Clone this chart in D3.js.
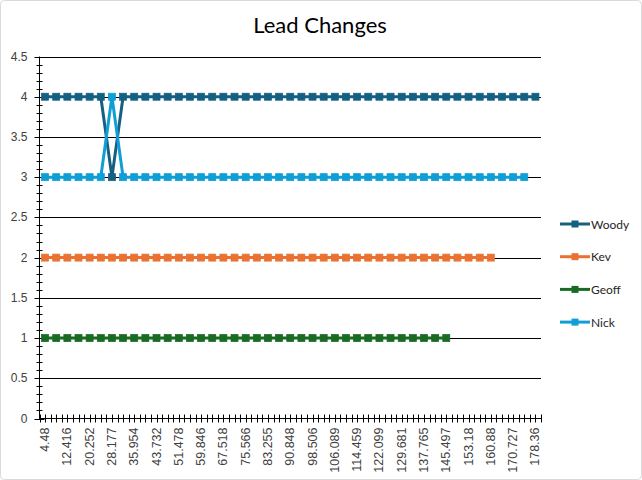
<!DOCTYPE html>
<html><head><meta charset="utf-8">
<script src="https://cdn.jsdelivr.net/npm/d3@7"></script>
<style>body{margin:0;background:#fff}svg{display:block}</style>
</head><body>
<script>
const categories = [4.48,8.4,12.416,16.3,20.252,24.2,28.177,32.1,35.954,39.8,43.732,47.6,51.478,55.6,59.846,63.7,67.518,71.5,75.566,79.4,83.255,87.1,90.848,94.7,98.506,102.3,106.089,110.3,114.459,118.3,122.099,125.9,129.681,133.7,137.765,141.6,145.497,149.3,153.18,157.0,160.88,165.8,170.727,174.5,178.36];
const woody = [4,4,4,4,4,4,3,4,4,4,4,4,4,4,4,4,4,4,4,4,4,4,4,4,4,4,4,4,4,4,4,4,4,4,4,4,4,4,4,4,4,4,4,4,4];
const kev   = [2,2,2,2,2,2,2,2,2,2,2,2,2,2,2,2,2,2,2,2,2,2,2,2,2,2,2,2,2,2,2,2,2,2,2,2,2,2,2,2,2];
const geoff = [1,1,1,1,1,1,1,1,1,1,1,1,1,1,1,1,1,1,1,1,1,1,1,1,1,1,1,1,1,1,1,1,1,1,1,1,1];
const nick  = [3,3,3,3,3,3,4,3,3,3,3,3,3,3,3,3,3,3,3,3,3,3,3,3,3,3,3,3,3,3,3,3,3,3,3,3,3,3,3,3,3,3,3,3];
const seriesNames = ["Woody","Kev","Geoff","Nick"];
const seriesColors = ["#156082","#E97132","#196B24","#0F9ED5"];
const yTicks = [0,0.5,1,1.5,2,2.5,3,3.5,4,4.5];
const title = "Lead Changes";

const W=642,H=480;
const svg=d3.select("body").append("svg").attr("width",W).attr("height",H);
svg.append("rect").attr("x",0.5).attr("y",0.5).attr("width",W-1).attr("height",H-1)
  .attr("rx",4).attr("fill","#fff").attr("stroke","#d9d9d9");

const L=39.5,R=541,T=56.5,B=418.5;
const x=d3.scaleBand().domain(d3.range(categories.length)).range([L,R]);
const y=d3.scaleLinear().domain([0,4.5]).range([B,T]);

svg.append("text").attr("x",320).attr("y",33).attr("text-anchor","middle")
  .attr("font-family","Lato, 'Open Sans', sans-serif").attr("font-size",22).attr("fill","#000").text(title);

// gridlines
svg.append("g").selectAll("line").data(yTicks.filter(d=>d>0)).join("line")
  .attr("x1",L).attr("x2",R).attr("y1",d=>Math.round(y(d))+0.5).attr("y2",d=>Math.round(y(d))+0.5)
  .attr("stroke","#000").attr("stroke-width",1);

// y axis minor ticks
const minor=d3.range(0,46).map(i=>i/10);
svg.append("g").selectAll("line").data(minor).join("line")
  .attr("x1",L-3).attr("x2",L+3).attr("y1",d=>Math.round(y(d))+0.5).attr("y2",d=>Math.round(y(d))+0.5)
  .attr("stroke","#000");
svg.append("g").selectAll("line").data(yTicks).join("line")
  .attr("x1",L-5).attr("x2",L+5).attr("y1",d=>Math.round(y(d))+0.5).attr("y2",d=>Math.round(y(d))+0.5)
  .attr("stroke","#000");
svg.append("line").attr("x1",L).attr("x2",L).attr("y1",T).attr("y2",B+0.5).attr("stroke","#000");
svg.append("g").selectAll("text").data(yTicks).join("text")
  .attr("x",L-12).attr("y",d=>y(d)+4).attr("text-anchor","end")
  .attr("font-family","'Liberation Sans', Arial, sans-serif").attr("font-size",12).attr("fill","#404040")
  .text(d=>d);

// x axis
const bw=x.bandwidth();
const xt=d3.range(categories.length*2+1).map(i=>L+i*bw/2);
svg.append("line").attr("x1",L).attr("x2",R).attr("y1",B).attr("y2",B).attr("stroke","#000");
svg.append("g").selectAll("line").data(xt).join("line")
  .attr("x1",d=>Math.round(d)+0.5).attr("x2",d=>Math.round(d)+0.5).attr("y1",B-4).attr("y2",B+4).attr("stroke","#000");
svg.append("g").selectAll("text").data(categories.map((c,i)=>({c,i})).filter(d=>d.i%2===0)).join("text")
  .attr("transform",d=>`translate(${x(d.i)+bw/2+4},${B+9}) rotate(-90)`)
  .attr("text-anchor","end")
  .attr("font-family","'Liberation Sans', Arial, sans-serif").attr("font-size",12.5).attr("fill","#404040")
  .text(d=>d.c);

// series
const data=[woody,kev,geoff,nick];
const line=d3.line().x((d,i)=>x(i)+bw/2).y(d=>y(d));
data.forEach((s,k)=>{
  const g=svg.append("g");
  g.append("path").attr("d",line(s)).attr("fill","none").attr("stroke",seriesColors[k]).attr("stroke-width",3).attr("stroke-linejoin","round");
  g.selectAll("rect").data(s).join("rect")
    .attr("x",(d,i)=>x(i)+bw/2-3.5).attr("y",d=>y(d)-3.5).attr("width",7).attr("height",7)
    .attr("fill",seriesColors[k]).attr("stroke",seriesColors[k]).attr("stroke-width",0.75);
});

// legend
const lg=svg.append("g");
seriesNames.forEach((n,k)=>{
  const yy=224+k*32.7;
  lg.append("line").attr("x1",560).attr("x2",590).attr("y1",yy).attr("y2",yy).attr("stroke",seriesColors[k]).attr("stroke-width",3);
  lg.append("rect").attr("x",575-3.5).attr("y",yy-3.5).attr("width",7).attr("height",7).attr("fill",seriesColors[k]);
  lg.append("text").attr("x",591).attr("y",yy+4.5).attr("font-family","Lato, 'Open Sans', sans-serif").attr("font-size",12).attr("fill","#262626").text(n);
});
</script>
</body></html>
